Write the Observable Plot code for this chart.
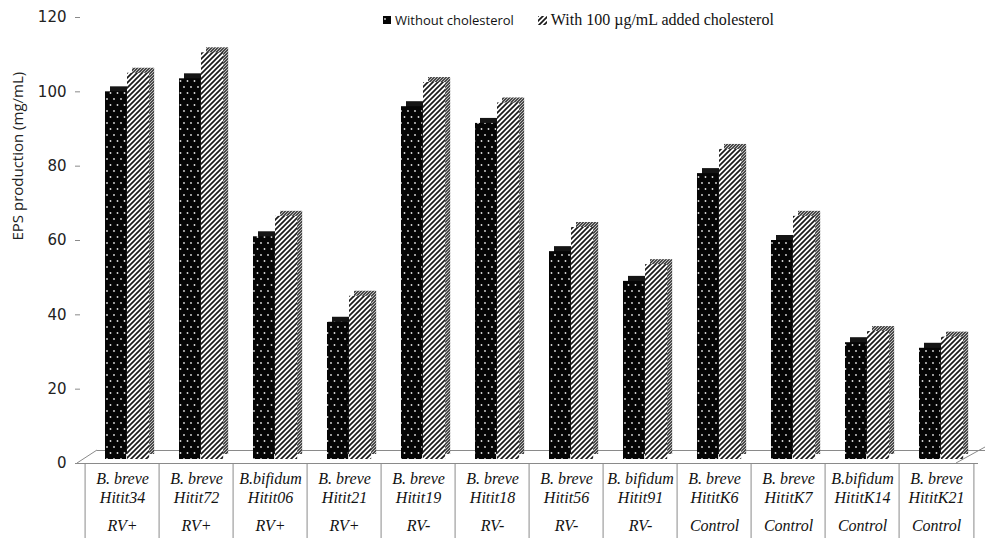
<!DOCTYPE html>
<html>
<head>
<meta charset="utf-8">
<script src="https://cdn.jsdelivr.net/npm/d3@7"></script>
<script src="https://cdn.jsdelivr.net/npm/@observablehq/plot@0.6"></script>
<style>
  html, body { margin: 0; padding: 0; background: #fff; }
  #wrap { position: relative; width: 985px; height: 538px; overflow: hidden; }
  #legend { position: absolute; left: 383px; top: 11px; display: flex; align-items: center; white-space: nowrap; color: #111; }
  #legend .item { display: flex; align-items: center; }
  #legend svg { display: block; margin-right: 4px; }
  #legend .t1 { font-family: "Open Sans", sans-serif; font-size: 13px; }
  #legend .t2 { font-family: "Liberation Serif", serif; font-size: 16px; }
</style>
</head>
<body>
<div id="wrap"></div>
<script>
// ---- data ----
const strains = ["Hitit34","Hitit72","Hitit06","Hitit21","Hitit19","Hitit18","Hitit56","Hitit91","HititK6","HititK7","HititK14","HititK21"];
const species = ["B. breve","B. breve","B.bifidum","B. breve","B. breve","B. breve","B. breve","B. bifidum","B. breve","B. breve","B.bifidum","B. breve"];
const groups = ["RV+","RV+","RV+","RV+","RV-","RV-","RV-","RV-","Control","Control","Control","Control"];
const withoutCholesterol = [100, 103.5, 61, 38, 96, 91.5, 57, 49, 78, 60, 32.5, 31];
const withCholesterol = [105, 110.5, 66.5, 45, 102.5, 97, 63.5, 53.5, 84.5, 66.5, 35.5, 34];
const yTicks = [0, 20, 40, 60, 80, 100, 120];
const seriesNames = ["Without cholesterol", "With 100 \u00b5g/mL added cholesterol"];
const yLabel = "EPS production (mg/mL)";

const table = strains.map((s, i) => ({
  strain: s, species: species[i], group: groups[i],
  without: withoutCholesterol[i], with: withCholesterol[i]
}));

// ---- layout ----
const W = 985, H = 538, mL = 80, mR = 7, mT = 17, mB = 75;
const bw = (W - mL - mR) / strains.length;
const depthX = 5, depthY = -5;
const blackL = 20, blackR = bw - 42, hatchL = 42, hatchR = bw - 65;
const lineColor = "#8a8a8a";
const serif = {fontFamily: "Liberation Serif", fontStyle: "italic", fontSize: 16, fill: "#111"};

const plot = Plot.plot({
  width: W, height: H,
  marginLeft: mL, marginRight: mR, marginTop: mT, marginBottom: mB,
  x: {type: "band", domain: strains, padding: 0, axis: null},
  y: {domain: [0, 120], axis: null},
  marks: [
    // floor back edge
    Plot.ruleY([0], {dy: -13, insetLeft: 17, insetRight: -7, stroke: lineColor}),
    // black bars: depth then front
    Plot.rectY(table, {x: "strain", y: "without", fill: "#151515", insetLeft: blackL, insetRight: blackR, insetBottom: 4, dx: depthX, dy: depthY}),
    Plot.rectY(table, {x: "strain", y: "without", fill: "url(#dots)", insetLeft: blackL, insetRight: blackR, insetBottom: 4}),
    // hatched bars: depth then front
    Plot.rectY(table, {x: "strain", y: "with", fill: "url(#hatchDark)", insetLeft: hatchL, insetRight: hatchR, insetBottom: 4, dx: depthX, dy: depthY}),
    Plot.rectY(table, {x: "strain", y: "with", fill: "url(#hatch)", insetLeft: hatchL, insetRight: hatchR, insetBottom: 4}),
    // front floor edge
    Plot.ruleY([0], {stroke: lineColor}),
    // category separators
    Plot.axisX(strains, {tickSize: mB, tickFormat: () => "", label: null, dx: -bw / 2, stroke: lineColor}),
    Plot.axisX([strains[strains.length - 1]], {tickSize: mB, tickFormat: () => "", label: null, dx: bw / 2, stroke: lineColor}),
    // category labels
    Plot.text(table, {x: "strain", text: "species", frameAnchor: "bottom", dy: 20, ...serif}),
    Plot.text(table, {x: "strain", text: "strain", frameAnchor: "bottom", dy: 39, ...serif}),
    Plot.text(table, {x: "strain", text: "group", frameAnchor: "bottom", dy: 67, ...serif}),
    // y axis
    Plot.axisY(yTicks, {tickSize: 5, tickPadding: 9, fontSize: 15, fontFamily: "DejaVu Sans", fill: "#222", stroke: lineColor,
      label: null, line: true}),
    Plot.text([yLabel], {frameAnchor: "left", dx: -62, rotate: -90, fontSize: 15, fontFamily: "Open Sans", fill: "#222"})
  ]
});

const defs = `
<defs>
  <pattern id="dots" patternUnits="userSpaceOnUse" width="7" height="12">
    <rect width="7" height="12" fill="#050505"/>
    <circle cx="2" cy="3" r="0.9" fill="#e0e0e0"/>
    <circle cx="5.5" cy="9" r="0.9" fill="#e0e0e0"/>
  </pattern>
  <pattern id="hatch" patternUnits="userSpaceOnUse" width="5" height="5">
    <rect width="5" height="5" fill="#fff"/>
    <path d="M-1,1 l2,-2 M0,5 l5,-5 M4,6 l2,-2" stroke="#1a1a1a" stroke-width="1.7"/>
  </pattern>
  <pattern id="hatchDark" patternUnits="userSpaceOnUse" width="3" height="3">
    <rect width="3" height="3" fill="#4a4a4a"/>
    <path d="M-1,1 l2,-2 M0,3 l3,-3 M2,4 l2,-2" stroke="#ddd" stroke-width="0.8"/>
  </pattern>
</defs>`;
d3.select(plot).insert("g", ":first-child").html(defs);

// floor slants at both ends
const y0 = plot.scale("y").apply(0);
const sg = d3.select(plot).append("g").attr("stroke", lineColor).attr("fill", "none");
sg.append("line").attr("x1", mL - 3).attr("y1", y0).attr("x2", mL + 17).attr("y2", y0 - 13);
sg.append("line").attr("x1", W - mR - 22).attr("y1", y0).attr("x2", W).attr("y2", y0 - 16);

document.getElementById("wrap").appendChild(plot);

// legend
const legend = document.createElement("div");
legend.id = "legend";
legend.innerHTML = `
  <div class="item"><svg width="8" height="8"><rect width="8" height="8" fill="url(#dots)"/></svg><span class="t1">${seriesNames[0]}</span></div>
  <div class="item" style="margin-left:24px"><svg width="9" height="9"><rect width="9" height="9" fill="url(#hatch)"/></svg><span class="t2">${seriesNames[1]}</span></div>`;
document.getElementById("wrap").appendChild(legend);
</script>
</body>
</html>
